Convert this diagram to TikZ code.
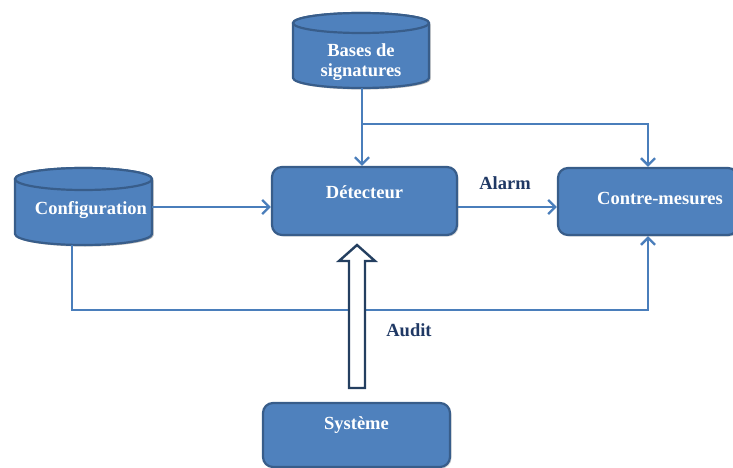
\documentclass[tikz,border=0pt]{standalone}
\usepackage{fontspec}
\setmainfont{Liberation Serif}
\usetikzlibrary{arrows.meta,shadows}
\definecolor{fillblue}{HTML}{4F81BD}
\definecolor{edgeblue}{HTML}{385D8A}
\definecolor{lineblue}{HTML}{4A7EBB}
\definecolor{navy}{HTML}{1F3864}
\definecolor{arrowedge}{HTML}{243F60}
\begin{document}
\begin{tikzpicture}[x=1pt,y=-1pt,
  txt/.style={font=\fontsize{18.5}{20.5}\selectfont\bfseries, text=white, align=center, inner sep=0pt},
  note/.style={font=\fontsize{18.5}{20.5}\selectfont\bfseries, text=navy, inner sep=0pt},
  block/.style={draw=edgeblue, line width=2.2pt, fill=fillblue, rounded corners=10pt, inner sep=0pt,
    drop shadow={shadow xshift=1.5pt, shadow yshift=-1.5pt, opacity=0.3}},
  drum/.style={draw=edgeblue, line width=2.2pt, fill=fillblue},
  link/.style={draw=lineblue, line width=2.4pt, -{Straight Barb[length=7pt,width=14pt,line width=2.4pt]}}]
\useasboundingbox (0,0) rectangle (733,468);

% signature store: a drum with its top ellipse
\fill[black, opacity=0.3] (294.5,24.5) -- (294.5,79.5) arc[start angle=180, end angle=360, x radius=68pt, y radius=10pt]
  -- (430.5,24.5) arc[start angle=0, end angle=180, x radius=68pt, y radius=10pt] -- cycle;
\filldraw[drum] (293,23) -- (293,78) arc[start angle=180, end angle=360, x radius=68pt, y radius=10pt]
  -- (429,23) arc[start angle=0, end angle=180, x radius=68pt, y radius=10pt] -- cycle;
\draw[drum] (361,23) ellipse[x radius=68pt, y radius=10pt];
\node[txt] (bases) at (361,62) {Bases de\\signatures};
\coordinate (bases-bot) at (362,88);

% configuration store
\fill[black, opacity=0.3] (16.5,180.5) -- (16.5,235.5) arc[start angle=180, end angle=360, x radius=68.5pt, y radius=11pt]
  -- (153.5,180.5) arc[start angle=0, end angle=180, x radius=68.5pt, y radius=11pt] -- cycle;
\filldraw[drum] (15,179) -- (15,234) arc[start angle=180, end angle=360, x radius=68.5pt, y radius=11pt]
  -- (152,179) arc[start angle=0, end angle=180, x radius=68.5pt, y radius=11pt] -- cycle;
\draw[drum] (83.5,179) ellipse[x radius=68.5pt, y radius=11pt];
\node[txt] (conf) at (91,210) {Configuration};
\coordinate (conf-out) at (152,207);
\coordinate (conf-bot) at (72,245);

% processing blocks
\node[block, minimum width=185pt, minimum height=68pt,
  label={[txt, yshift=9pt]center:Détecteur}] (det) at (364.5,201) {};
\node[block, minimum width=180pt, minimum height=67pt,
  label={[txt, xshift=12pt, yshift=3.5pt]center:Contre-mesures}] (cm) at (648,201.5) {};
\node[block, minimum width=187pt, minimum height=64pt,
  label={[txt, yshift=10pt]center:Système}] (sys) at (356.5,435) {};

% signature base feeds the detector and the countermeasures
\draw[link] (bases-bot) -- (bases-bot |- det.north);
\coordinate (split) at (bases-bot |- 0,124);
\draw[link] (split) -| (cm.north);

% configuration feeds the detector and the countermeasures
\draw[link] (conf-out) -- (conf-out -| det.west);
\coordinate (conf-turn) at (conf-bot |- 0,310);
\draw[link] (conf-bot) -- (conf-turn) -| (cm.south);

% alarm from detector to countermeasures
\coordinate (alarm-out) at (det.east |- conf-out);
\draw[link] (alarm-out) -- (alarm-out -| cm.west);
\node[note] (alarm) at (505,183) {Alarm};

% audit data from the system (hollow arrow)
\draw[draw=arrowedge, line width=2.4pt, fill=white, line join=miter]
  (349,388) -- (349,261) -- (339,261) -- (357,245) -- (375,261) -- (365,261) -- (365,388) -- cycle;
\node[note] (audit) at (409,330) {Audit};
\end{tikzpicture}
\end{document}
